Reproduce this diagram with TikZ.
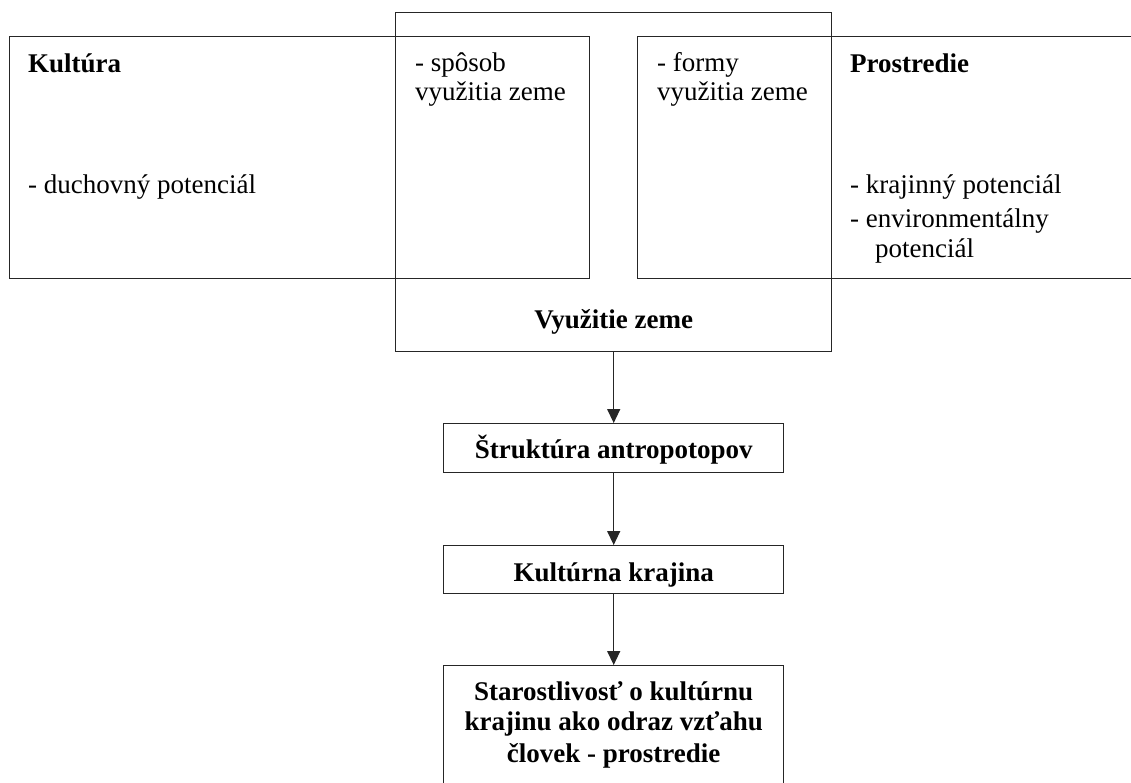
\documentclass[tikz,border=0pt]{standalone}
\usepackage{fontspec}
\setmainfont{Liberation Serif}
\usetikzlibrary{arrows.meta}
\begin{document}
\begin{tikzpicture}[x=1pt,y=1pt,
  box/.style={draw=black!85,line width=1.4pt,rectangle,inner sep=0pt,anchor=north west},
  txt/.style={inner sep=0pt,anchor=base west,font=\fontsize{27}{30}\selectfont},
  btxt/.style={inner sep=0pt,anchor=base west,font=\fontsize{27}{30}\selectfont\bfseries},
  ctxt/.style={inner sep=0pt,anchor=base,font=\fontsize{27}{30}\selectfont\bfseries},
  flow/.style={draw=black!85,line width=1.4pt,-{Triangle[width=13pt,length=14pt]}}]
\useasboundingbox (0,0) rectangle (1131,-782);
\clip (0,0) rectangle (1131,-782);
% boxes
\node[box,minimum width=580pt,minimum height=242pt] (kult) at (9,-36) {};
\node[box,minimum width=436pt,minimum height=339pt] (vyuz) at (395,-12) {};
\node[box,minimum width=503pt,minimum height=242pt] (pros) at (637,-36) {};
\node[box,minimum width=340pt,minimum height=49pt] (strk) at (443,-423) {};
\node[box,minimum width=340pt,minimum height=48pt] (kk) at (443,-545) {};
\node[box,minimum width=340pt,minimum height=140pt] (star) at (443,-665) {};
% texts
\node[btxt] (t1) at ([shift={(19,-36)}]kult.north west) {Kultúra};
\node[txt] (t2) at ([shift={(19,-157)}]kult.north west) {- duchovný potenciál};
\node[txt] (t3) at ([shift={(20,-59)}]vyuz.north west) {- spôsob};
\node[txt] (t4) at ([shift={(20,-88)}]vyuz.north west) {využitia zeme};
\node[txt] (t5) at ([shift={(20,-35)}]pros.north west) {- formy};
\node[txt] (t6) at ([shift={(20,-64)}]pros.north west) {využitia zeme};
\node[btxt] (t7) at ([shift={(213,-36)}]pros.north west) {Prostredie};
\node[txt] (t8) at ([shift={(213,-157)}]pros.north west) {- krajinný potenciál};
\node[txt] (t9) at ([shift={(213,-191)}]pros.north west) {- environmentálny};
\node[txt] (t10) at ([shift={(238,-221)}]pros.north west) {potenciál};
\node[ctxt] (t11) at ([yshift=24]vyuz.south) {Využitie zeme};
\node[ctxt] (t12) at ([yshift=15]strk.south) {Štruktúra antropotopov};
\node[ctxt] (t13) at ([yshift=13]kk.south) {Kultúrna krajina};
\node[ctxt] (t14) at ([yshift=-35]star.north) {Starostlivosť o kultúrnu};
\node[ctxt] (t15) at ([yshift=-65]star.north) {krajinu ako odraz vzťahu};
\node[ctxt] (t16) at ([yshift=-97]star.north) {človek - prostredie};
% arrows
\draw[flow] (vyuz.south) -- (strk.north);
\draw[flow] (strk.south) -- (kk.north);
\draw[flow] (kk.south) -- (star.north);
\end{tikzpicture}
\end{document}
